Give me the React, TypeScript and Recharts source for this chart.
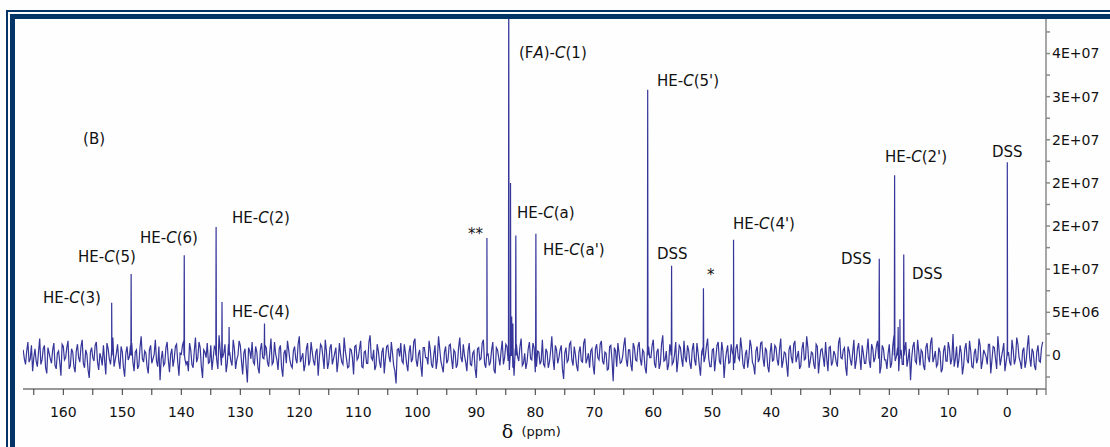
import React from "react";
import { LineChart, Line, XAxis, YAxis, ReferenceDot, ReferenceLine } from "recharts";

// ---- spectrum data (δ ppm, intensity) ----
const PPM_START = 166.8;
const PPM_STEP = 0.4; // spacing of each sample set; the odd set sits half a step after the even set
const NOISE_UNIT = 1.3e5;
// baseline noise (units of NOISE_UNIT)
const noiseEven = [
  5,-8,12,-3,-14,6,-10,15,-4,9,-16,2,-7,11,-12,4,-18,8,-2,13,
  -9,3,-15,10,-6,14,-11,1,-20,7,-5,12,-13,-2,9,-17,6,-8,16,-4,
  10,-12,3,-19,8,-1,11,-14,5,-9,17,-6,2,-16,9,-3,14,-10,-22,4,
  -7,12,-15,6,-3,10,-18,1,13,-8,-14,5,-11,16,-2,7,-20,3,11,-6,
  -13,8,-4,18,-9,2,-15,10,-5,14,-12,0,9,-17,6,-24,4,12,-8,3,
  -16,11,-3,7,-10,15,-6,1,-13,9,-19,5,13,-4,-11,8,-7,17,-2,-14,
  6,-9,12,-5,3,-18,10,-1,14,-12,7,-8,2,-15,11,-6,16,-3,-10,5,
  -17,9,-2,13,-11,4,-7,18,-4,-13,10,-6,3,-16,8,-1,12,-9,-25,6,
  11,-7,2,-14,9,-3,15,-10,5,-19,7,-2,13,-8,1,-12,17,-5,-15,8,
  -4,10,-12,3,-8,16,-6,0,-14,11,-9,4,-20,7,-3,14,-11,2,-6,12,
  -16,5,-9,13,-2,8,-13,1,-18,10,-5,15,-7,-12,6,-3,11,-15,4,-8,
  14,-10,3,-6,17,-13,5,-2,9,-21,7,-4,12,-9,1,-14,8,-6,15,-3,
  -11,6,-17,10,-4,13,-8,2,-12,9,-23,4,11,-7,-1,16,-10,5,-14,7,
  -5,12,-9,3,-16,8,-2,14,-11,6,-7,18,-4,-13,10,-8,1,-15,9,-3,
  13,-6,4,-12,11,-9,2,-18,7,-1,15,-10,5,-14,9,-5,12,-20,3,-7,
  10,-13,6,-2,16,-8,1,-11,14,-6,-17,8,-3,12,-10,4,-15,11,-4,7,
  -9,15,-5,2,-19,9,-7,13,-1,-12,6,-4,17,-11,3,-8,10,-16,5,-2,
  12,-14,8,-6,1,-10,16,-3,7,-18,4,-9,14,-5,11,-13,2,-7,15,-11,
  6,-2,13,-16,9,-4,-12,10,-7,18,-1,-14,5,-8,12,-3,-22,8,-5,14,
  -9,3,-13,11,-6,16,-2,-10,7,-15,4,-5,12,-8,19,-3,-11,9,-17,6,
  -4,13,-10,2,-7,15,-12,5,-1,10,-16,8,-3,17,-9,4,-14,11,-6,14,
  -8,16,-2,-12,7,-5,18,-10,3,-13,9,-6,12,
];
const noiseOdd = [
  -3,4,-6,9,-2,-5,3,-8,6,-11,7,-3,5,-9,2,-6,10,-4,7,-12,
  6,-10,4,-2,8,-7,5,-13,3,-2,9,-6,2,-9,-4,11,-3,6,-10,2,
  -5,8,-11,2,-4,9,-6,3,-12,7,-3,4,-10,5,-7,1,-5,8,-3,-9,
  7,-4,1,-10,8,-6,2,9,-3,-5,11,-8,4,-6,12,-10,5,-2,-7,9,
  -3,6,-12,4,-2,10,-7,3,-9,6,-4,13,-5,2,-10,7,-3,-6,8,-11,
  5,-2,9,-6,3,-8,12,-4,6,-11,2,-7,5,-9,4,-3,10,-6,2,-8,
  11,-5,3,-9,6,-2,8,-12,4,-6,10,-3,7,-5,1,-8,4,-11,6,-2,
  8,-4,6,-10,3,-7,12,-2,5,-9,4,-11,7,-3,9,-6,2,-14,5,-1,
  -5,10,-8,3,-6,12,-4,1,-9,7,-2,-8,5,-11,9,-4,6,-10,3,-7,
  9,-3,5,-11,7,-2,10,-6,4,-8,2,-12,6,-4,11,-7,3,-9,5,-13,
  7,-2,4,-8,10,-5,3,-11,6,-1,8,-9,2,-6,12,-4,7,-10,3,-5,
  -8,6,-11,4,-3,9,-7,5,-12,2,-6,10,-4,8,-9,3,-5,11,-7,2,
  4,-9,6,-2,10,-5,3,-13,8,-4,7,-10,2,-6,9,-3,5,-8,11,-4,
  8,-3,5,-11,6,-2,9,-7,3,-12,10,-5,4,-8,2,-6,12,-4,7,-10,
  -2,9,-7,5,-4,11,-9,3,-6,8,-3,-10,6,-2,12,-8,4,-5,9,-6,
  3,-7,10,-4,6,-12,5,-2,8,-9,4,-6,11,-3,7,-10,2,-5,9,-4,
  6,-11,3,-8,5,-2,10,-6,4,-9,12,-3,7,-5,2,-12,8,-4,6,-10,
  -3,7,-9,4,-6,11,-2,5,-10,8,-4,3,-12,6,-2,9,-7,4,-5,10,
  -6,8,-3,-10,6,-4,2,-11,9,-5,7,-3,-8,4,-10,6,-2,12,-7,3,
  5,-9,7,-2,11,-6,4,-8,3,-12,9,-5,6,-3,-10,8,-4,2,-9,11,
  -7,4,-11,6,-3,9,-5,2,-8,10,-4,7,-12,5,-2,11,-6,3,-9,5,
  -3,10,-6,4,-11,8,-2,6,-9,3,-5,7,
];

// resonance lines: position (ppm) and height
const peakPpm = [151.8, 148.5, 139.5, 134.1, 133.1, 131.9, 125.9, 88.2, 84.5, 84.2, 84.0, 83.8, 83.3, 79.9, 60.95, 56.9, 51.5, 46.4, 21.7, 19.1, 18.5, 18.2, 17.55, 0.0];
const peakHeight = [6.1e6, 9.45e6, 11.6e6, 14.9e6, 6.2e6, 3.3e6, 3.7e6, 13.6e6, 4.5e7, 2.0e7, 4.5e6, 3.7e6, 13.9e6, 14.1e6, 30.8e6, 10.4e6, 7.8e6, 13.4e6, 11.2e6, 20.9e6, 3.3e6, 4.2e6, 11.7e6, 22.4e6];

// annotations: text ("_" toggles italic), anchor (left edge, vertical centre)
const labelText = ["(B)", "(F_A_)-_C_(1)", "HE-_C_(5')", "HE-_C_(2')", "DSS", "HE-_C_(2)", "HE-_C_(6)", "HE-_C_(5)", "HE-_C_(3)", "HE-_C_(4)", "**", "HE-_C_(a)", "HE-_C_(a')", "DSS", "*", "HE-_C_(4')", "DSS", "DSS"];
const labelPpm = [156.65, 82.76, 59.37, 20.73, 2.59, 131.41, 147.0, 157.5, 163.44, 131.41, 91.4, 83.1, 78.7, 59.37, 50.9, 46.5, 28.2, 16.17];
const labelY = [25.1e6, 35.1e6, 31.8e6, 23.0e6, 23.6e6, 15.95e6, 13.7e6, 11.4e6, 6.67e6, 5.05e6, 14.1e6, 16.5e6, 12.2e6, 11.8e6, 9.4e6, 15.25e6, 11.2e6, 9.45e6];

// axes
const X_DOMAIN = [-6.56, 166.83];
const Y_DOMAIN = [-3.89e6, 3.9e7];
const xTicks = [165, 160, 155, 150, 145, 140, 135, 130, 125, 120, 115, 110, 105, 100, 95, 90, 85, 80, 75, 70, 65, 60, 55, 50, 45, 40, 35, 30, 25, 20, 15, 10, 5, 0, -5];
const xTickLabeled = [160, 150, 140, 130, 120, 110, 100, 90, 80, 70, 60, 50, 40, 30, 20, 10, 0];
const yTicks = [-2.5e6, 0, 2.5e6, 5e6, 7.5e6, 1e7, 1.25e7, 1.5e7, 1.75e7, 2e7, 2.25e7, 2.5e7, 2.75e7, 3e7, 3.25e7, 3.5e7, 3.75e7];
const yTickLabels = ["", "0", "", "5E+06", "", "1E+07", "", "2E+07", "", "2E+07", "", "2E+07", "", "3E+07", "", "4E+07", ""];

const LINE = "#35359a";
const NAVY = "#023466";
const FONT = "'DejaVu Sans', sans-serif";

const data: { ppm: number; v: number }[] = [];
noiseEven.forEach((n, i) => {
  const p = PPM_START - i * PPM_STEP;
  data.push({ ppm: +p.toFixed(3), v: n * NOISE_UNIT });
  if (i < noiseOdd.length) data.push({ ppm: +(p - PPM_STEP / 2).toFixed(3), v: noiseOdd[i] * NOISE_UNIT });
});
peakPpm.forEach((p, i) => {
  data.push({ ppm: p + 0.05, v: 0 });
  data.push({ ppm: p, v: peakHeight[i] });
  data.push({ ppm: p - 0.05, v: 0 });
});
data.sort((a, b) => b.ppm - a.ppm);

function PeakLabel(props: any) {
  const vb = props.viewBox || { x: 0, y: 0, width: 0, height: 0 };
  const x = vb.x + (vb.width || 0) / 2;
  const y = vb.y + (vb.height || 0) / 2;
  const segs = String(props.text).split("_");
  return (
    <text x={x} y={y} dy="0.35em" fontFamily={FONT} fontSize={15} fill="#111">
      {segs.map((s, i) => (
        <tspan key={i} fontStyle={i % 2 === 1 ? "italic" : "normal"}>{s}</tspan>
      ))}
    </text>
  );
}

function AxisTitle(props: any) {
  const vb = props.viewBox || { x: 0, y: 0, width: 0, height: 0 };
  const cx = vb.x + vb.width / 2;
  return (
    <g>
      <text x={cx - 27} y={438} textAnchor="middle" fontFamily="'DejaVu Serif', serif" fontSize={19} fill="#111">δ</text>
      <text x={cx - 13} y={436} textAnchor="start" fontFamily={FONT} fontSize={13} fill="#111">(ppm)</text>
    </g>
  );
}

export default function App() {
  return (
    <div style={{ position: "absolute", left: 0, top: 0, width: 1110, height: 447, overflow: "hidden", background: "#fefefe" }}>
      <div style={{ position: "absolute", left: 6, top: 10, width: 1200, height: 600, borderLeft: `2px solid ${NAVY}`, borderTop: `2px solid ${NAVY}` }} />
      <div style={{ position: "absolute", left: 10, top: 14, width: 1200, height: 600, borderLeft: `5px solid ${NAVY}`, borderTop: `5px solid ${NAVY}` }} />
      <div style={{ position: "absolute", left: 0, top: 0 }}>
        <LineChart width={1110} height={447} data={data} margin={{ top: 19, left: 23, right: 4, bottom: 18 }}>
          <XAxis
            type="number"
            dataKey="ppm"
            domain={X_DOMAIN}
            reversed
            allowDataOverflow
            ticks={xTicks}
            interval={0}
            tickFormatter={(v: number) => (xTickLabeled.includes(v) ? String(v) : "")}
            height={40}
            tickSize={6}
            tickMargin={12}
            stroke="#333"
            tick={{ fill: "#111", fontFamily: FONT, fontSize: 14 }}
            label={<AxisTitle />}
          />
          <YAxis
            orientation="right"
            type="number"
            domain={Y_DOMAIN}
            allowDataOverflow
            ticks={yTicks}
            interval={0}
            tickFormatter={(v: number) => yTickLabels[yTicks.indexOf(v)] ?? ""}
            width={60}
            tickSize={4}
            tickMargin={2}
            stroke="#8a8a8a"
            strokeWidth={1.5}
            tick={{ fill: "#111", fontFamily: FONT, fontSize: 14 }}
          />
          <ReferenceLine
            segment={[{ x: X_DOMAIN[0], y: Y_DOMAIN[0] }, { x: X_DOMAIN[0], y: -4.6e6 }]}
            ifOverflow="visible"
            stroke="#8a8a8a"
            strokeWidth={1.5}
          />
          <Line type="linear" dataKey="v" stroke={LINE} strokeWidth={1.2} dot={false} activeDot={false} isAnimationActive={false} />
          {labelText.map((t, i) => (
            <ReferenceDot
              key={i}
              x={labelPpm[i]}
              y={labelY[i]}
              r={0}
              fill="none"
              stroke="none"
              ifOverflow="visible"
              label={<PeakLabel text={t} />}
            />
          ))}
        </LineChart>
      </div>
    </div>
  );
}
